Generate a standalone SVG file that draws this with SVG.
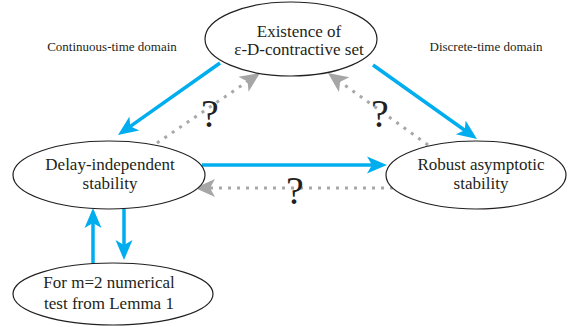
<svg xmlns="http://www.w3.org/2000/svg" width="568" height="327" viewBox="0 0 568 327">
<style>
.node{fill:#fff;stroke:#231f20;stroke-width:1.2}
.t{font-family:"Liberation Serif","Times New Roman","DejaVu Serif",serif;font-size:17px;fill:#231f20;text-anchor:middle}
.side{font-family:"Liberation Serif","Times New Roman","DejaVu Serif",serif;font-size:13px;fill:#231f20;text-anchor:middle}
.q{font-family:"Liberation Serif","Times New Roman","DejaVu Serif",serif;font-size:40px;fill:#231f20;text-anchor:middle}
.blue{stroke:#00aeef;stroke-width:3.5;fill:none}
.grey{stroke:#a8a8a8;stroke-width:3;fill:none;stroke-dasharray:3 6}
</style>
<defs>
<marker id="ab" markerUnits="userSpaceOnUse" markerWidth="22" markerHeight="22" viewBox="0 -11 22 22" refX="8" refY="0" orient="auto">
<path d="M0,-8.5 L20,0 L0,8.5 L5,0 Z" fill="#00aeef"/>
</marker>
<marker id="ag" markerUnits="userSpaceOnUse" markerWidth="22" markerHeight="22" viewBox="0 -11 22 22" refX="8" refY="0" orient="auto">
<path d="M0,-9 L20,0 L0,9 L5,0 Z" fill="#a6a6a6"/>
</marker>
</defs>
<text class="side" x="112" y="51">Continuous-time domain</text>
<text class="side" x="486" y="51">Discrete-time domain</text>
<g id="connectors">
<line class="blue" x1="220" y1="63" x2="127.8" y2="128.1" marker-end="url(#ab)"/>
<line class="blue" x1="373" y1="65" x2="467.2" y2="132" marker-end="url(#ab)"/>
<line class="blue" x1="202" y1="165" x2="375" y2="165" marker-end="url(#ab)"/>
<line class="blue" x1="93" y1="263" x2="93" y2="220" marker-end="url(#ab)"/>
<line class="blue" x1="124" y1="208" x2="124" y2="248" marker-end="url(#ab)"/>
<line class="grey" x1="157" y1="143" x2="250.1" y2="79.7" marker-end="url(#ag)"/>
<line class="grey" x1="428" y1="145" x2="337.7" y2="80" marker-end="url(#ag)"/>
<line class="grey" x1="393" y1="188" x2="207" y2="188" marker-end="url(#ag)"/>
<text class="q" x="210" y="127">?</text>
<text class="q" x="380" y="127">?</text>
<text class="q" x="295" y="204">?</text>
</g>
<g id="top">
<ellipse class="node" cx="291" cy="39" rx="86" ry="37"/>
<text class="t" x="299" y="37">Existence of</text>
<text class="t" x="299" y="55">ε-D-contractive set</text>
</g>
<g id="left">
<ellipse class="node" cx="109" cy="175" rx="96" ry="34"/>
<text class="t" x="110" y="170">Delay-independent</text>
<text class="t" x="110" y="189">stability</text>
</g>
<g id="right">
<ellipse class="node" cx="476" cy="175" rx="90" ry="34"/>
<text class="t" x="481" y="170">Robust asymptotic</text>
<text class="t" x="481" y="189">stability</text>
</g>
<g id="bottom">
<ellipse class="node" cx="113" cy="294" rx="100" ry="31"/>
<text class="t" x="109" y="288">For m=2 numerical</text>
<text class="t" x="109" y="309">test from Lemma 1</text>
</g>
</svg>
